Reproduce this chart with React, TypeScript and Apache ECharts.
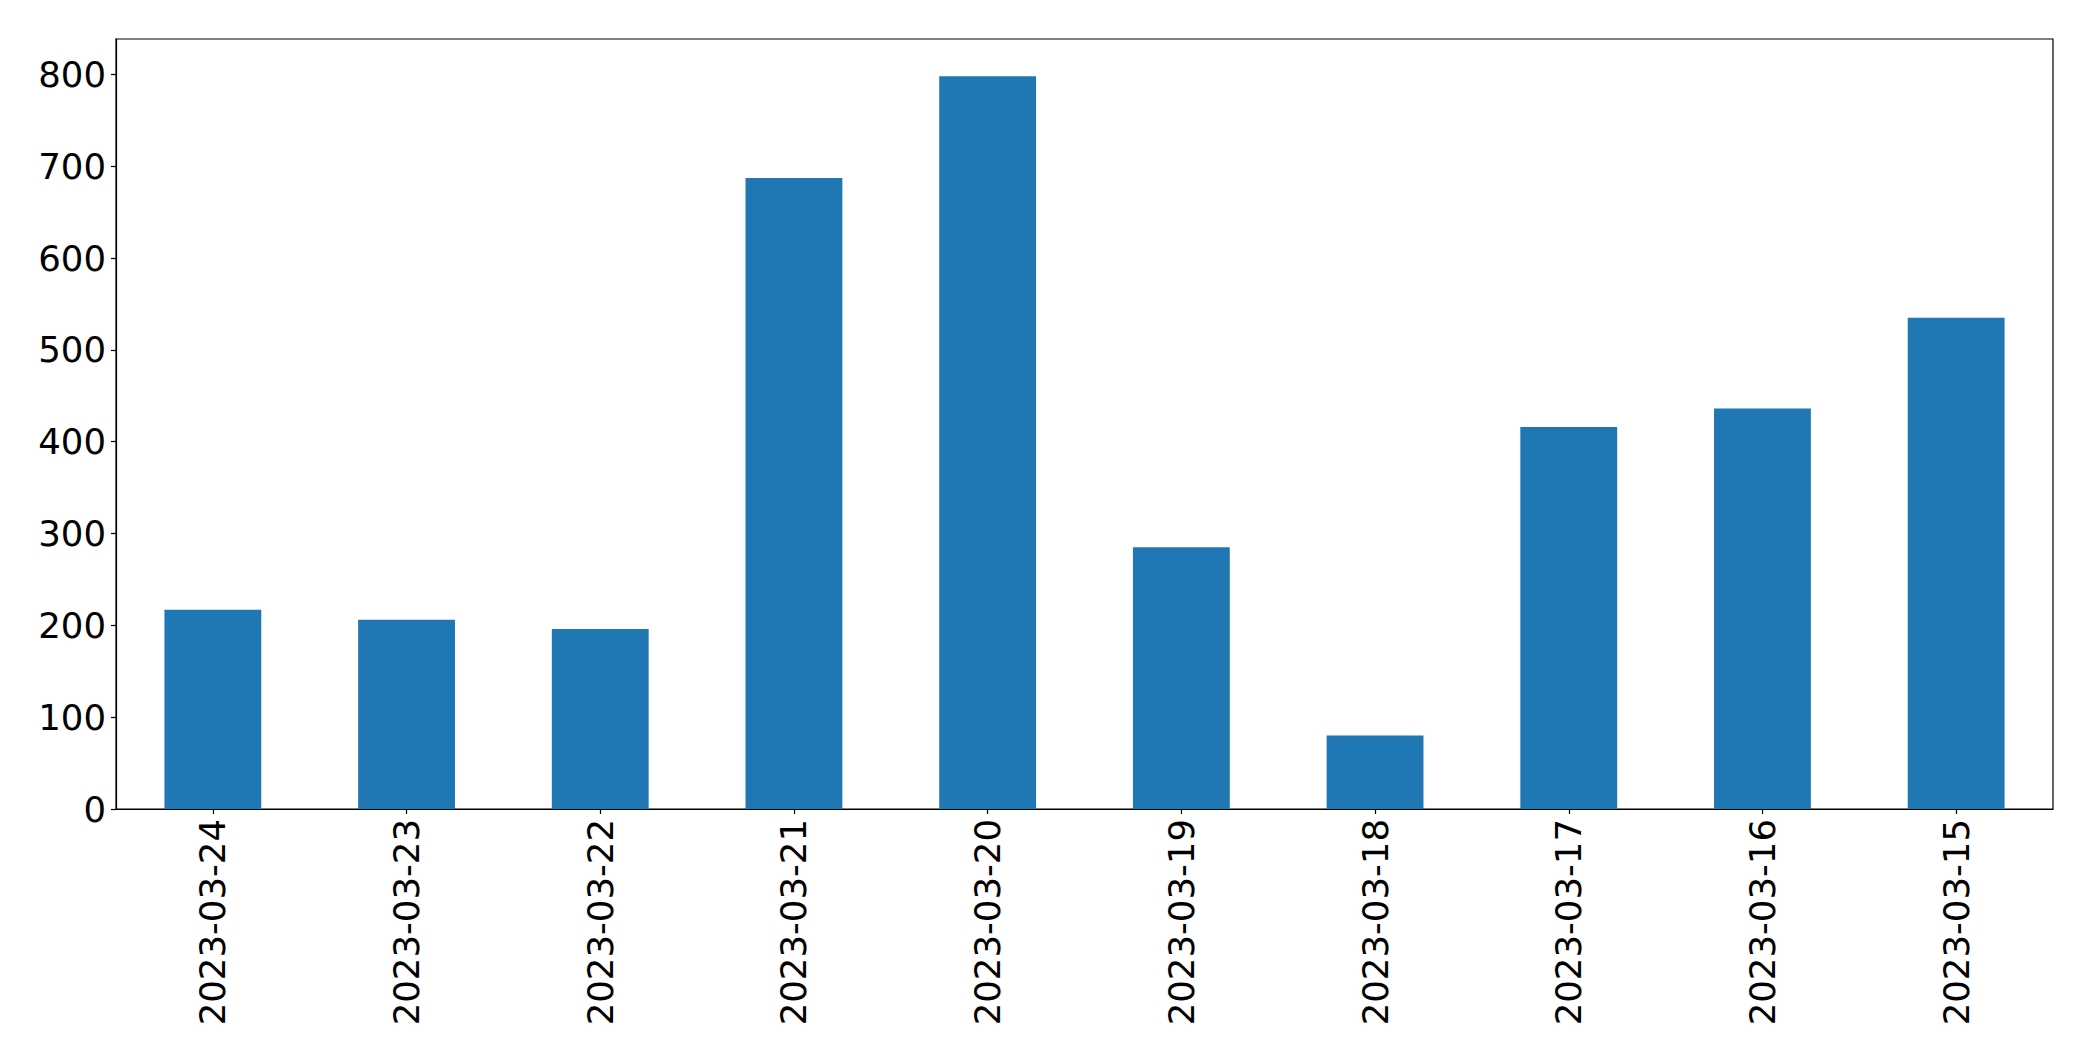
import React, { useEffect, useRef } from "react";
import * as echarts from "echarts";

const categories = [
  "2023-03-24",
  "2023-03-23",
  "2023-03-22",
  "2023-03-21",
  "2023-03-20",
  "2023-03-19",
  "2023-03-18",
  "2023-03-17",
  "2023-03-16",
  "2023-03-15",
];
const values = [217, 206, 196, 687, 798, 285, 80, 416, 436, 535];
const yTicks = [0, 100, 200, 300, 400, 500, 600, 700, 800];
const yMax = 838.5;

export default function App() {
  const ref = useRef<HTMLDivElement>(null);
  useEffect(() => {
    document.body.style.margin = "0";
    if (!ref.current) return;
    const chart = echarts.init(ref.current, undefined, { renderer: "svg" });
    const font = "DejaVu Sans";
    chart.setOption({
      animation: false,
      backgroundColor: "#ffffff",
      grid: {
        left: 116,
        top: 39,
        right: 40,
        bottom: 252,
        show: true,
        borderColor: "#000000",
        borderWidth: 1.2,
        backgroundColor: "transparent",
      },
      xAxis: {
        type: "category",
        data: categories,
        axisLine: { show: true, lineStyle: { color: "#000000", width: 1.2 } },
        axisTick: {
          show: true,
          alignWithLabel: true,
          length: 5,
          lineStyle: { color: "#000000", width: 1.2 },
        },
        axisLabel: {
          rotate: 90,
          margin: 10,
          fontSize: 35.5,
          color: "#000000",
          fontFamily: font,
        },
        splitLine: { show: false },
      },
      yAxis: {
        type: "value",
        min: 0,
        max: yMax,
        interval: 100,
        axisLine: { show: true, lineStyle: { color: "#000000", width: 1.2 } },
        axisTick: {
          show: true,
          length: 5,
          lineStyle: { color: "#000000", width: 1.2 },
          customValues: yTicks,
        },
        axisLabel: {
          margin: 10,
          fontSize: 35.5,
          color: "#000000",
          fontFamily: font,
          customValues: yTicks,
        },
        splitLine: { show: false },
      },
      series: [
        {
          type: "bar",
          data: values,
          barCategoryGap: "50%",
          itemStyle: { color: "#1f77b4" },
        },
      ],
    });
    return () => chart.dispose();
  }, []);
  return <div ref={ref} style={{ width: 2093, height: 1061 }} />;
}
